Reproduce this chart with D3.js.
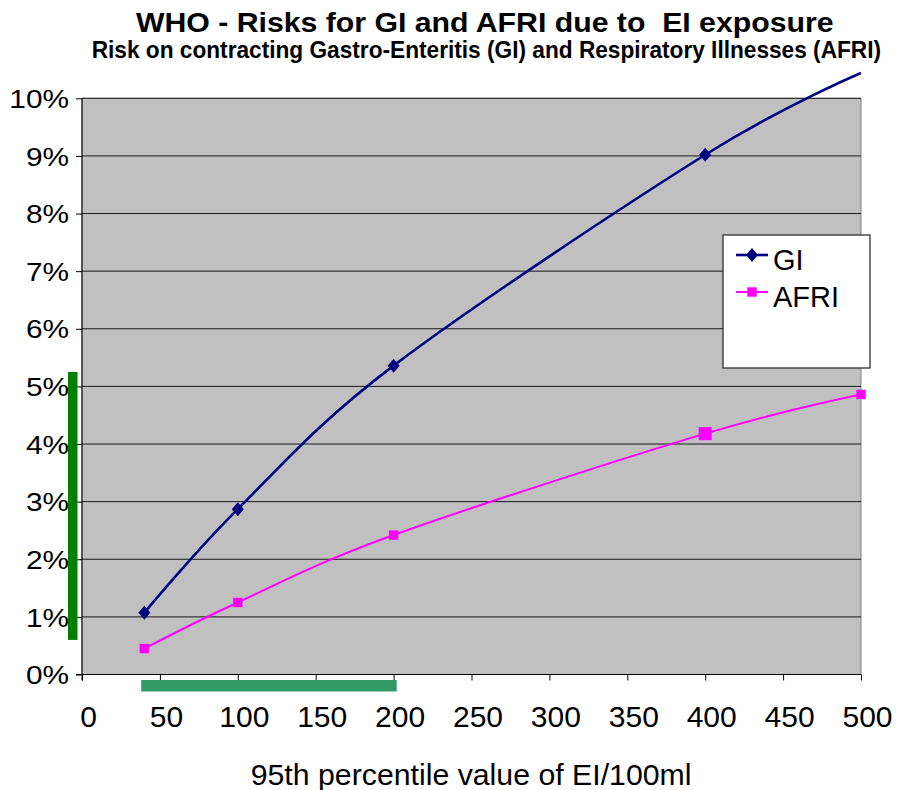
<!DOCTYPE html>
<html>
<head>
<meta charset="utf-8">
<script src="https://cdn.jsdelivr.net/npm/d3@7"></script>
<style>
  body { margin: 0; background: #fff; }
  text { font-family: "Liberation Sans", Arial, sans-serif; fill: #000; }
</style>
</head>
<body>
<div id="chart"></div>
<script>
// data
const exposure = [40, 100, 200, 400, 500];
const giRisk = [0.0107, 0.0287, 0.0536, 0.0902, 0.1044];
const afriRisk = [0.0045, 0.0125, 0.0242, 0.0418, 0.0486];
const seriesNames = ["GI", "AFRI"];
const xTicks = [0, 50, 100, 150, 200, 250, 300, 350, 400, 450, 500];
const yTicks = [0, 0.01, 0.02, 0.03, 0.04, 0.05, 0.06, 0.07, 0.08, 0.09, 0.10];
const riskBand = [0.006, 0.0525];   // green bar beside the y axis
const exposureBand = [38, 202];     // green bar below the x axis

let W = 898, H = 790;
let pLeft = 82, pRight = 861, pTop = 98.3, pBottom = 674.5;

let svg = d3.select("#chart")
    .append("svg")
    .attr("width", W)
    .attr("height", H);

let x = d3.scaleLinear().domain([0, 500]).range([pLeft, pRight]);
let y = d3.scaleLinear().domain([0, 0.10]).range([pBottom, pTop]);

// plot area
svg.append("rect")
    .attr("x", pLeft)
    .attr("y", pTop)
    .attr("width", pRight - pLeft)
    .attr("height", pBottom - pTop)
    .attr("fill", "#c0c0c0")
    .attr("stroke", "#808080")
    .attr("stroke-width", 1);

// gridlines
svg.append("g")
    .selectAll("line")
    .data(yTicks.slice(1))
    .join("line")
    .attr("x1", pLeft)
    .attr("x2", pRight)
    .attr("y1", d => y(d))
    .attr("y2", d => y(d))
    .attr("stroke", "#1a1a1a")
    .attr("stroke-width", 1);

// axes
let yAxis = svg.append("g")
    .attr("transform", "translate(" + pLeft + ",0)")
    .call(d3.axisLeft(y).tickValues(yTicks).tickFormat(d3.format(".0%")).tickSize(6).tickPadding(7));
yAxis.select(".domain").remove();
yAxis.selectAll("line").attr("stroke", "#000");
yAxis.selectAll("text")
    .attr("font-size", 25.5)
    .attr("dy", "0.36em")
    .each(function () {
        let w = this.getComputedTextLength();
        d3.select(this).attr("textLength", w * 1.17).attr("lengthAdjust", "spacingAndGlyphs");
    });

let xAxis = svg.append("g")
    .attr("transform", "translate(0," + pBottom + ")")
    .call(d3.axisBottom(x).tickValues(xTicks).tickSize(6).tickPadding(0));
xAxis.select(".domain").remove();
xAxis.selectAll("line").attr("stroke", "#000");
xAxis.selectAll("text")
    .attr("font-size", 30)
    .attr("dx", 6)
    .attr("dy", 0)
    .attr("y", 52);

svg.append("line")
    .attr("x1", pLeft).attr("x2", pLeft)
    .attr("y1", pTop).attr("y2", pBottom + 6)
    .attr("stroke", "#000");
svg.append("line")
    .attr("x1", pLeft - 6).attr("x2", pRight)
    .attr("y1", pBottom).attr("y2", pBottom)
    .attr("stroke", "#000");

// green range bars
svg.append("rect")
    .attr("x", 68)
    .attr("width", 9.5)
    .attr("y", y(riskBand[1]))
    .attr("height", y(riskBand[0]) - y(riskBand[1]))
    .attr("fill", "#008000");
svg.append("rect")
    .attr("x", x(exposureBand[0]))
    .attr("width", x(exposureBand[1]) - x(exposureBand[0]))
    .attr("y", 680)
    .attr("height", 11.5)
    .attr("fill", "#339966");

// series
let line = d3.line().curve(d3.curveCardinal.tension(0));
let diamond = "M0,-7L6,0L0,7L-6,0Z";

let giPts = exposure.map((e, i) => [x(e), y(giRisk[i])]);
let afriPts = exposure.map((e, i) => [x(e), y(afriRisk[i])]);

svg.append("path")
    .attr("d", line(afriPts))
    .attr("fill", "none")
    .attr("stroke", "#ff00ff")
    .attr("stroke-width", 2);

svg.append("g")
    .selectAll("rect")
    .data(afriPts)
    .join("rect")
    .attr("x", (d, i) => d[0] - (i === 3 ? 6.5 : 4.7))
    .attr("y", (d, i) => d[1] - (i === 3 ? 6.5 : 4.7))
    .attr("width", (d, i) => i === 3 ? 13 : 9.4)
    .attr("height", (d, i) => i === 3 ? 13 : 9.4)
    .attr("fill", "#ff00ff");

svg.append("path")
    .attr("d", line(giPts))
    .attr("fill", "none")
    .attr("stroke", "#000080")
    .attr("stroke-width", 2.6);

svg.append("g")
    .selectAll("path")
    .data(giPts.filter(p => p[1] >= pTop))
    .join("path")
    .attr("d", diamond)
    .attr("transform", d => "translate(" + d[0] + "," + d[1] + ")")
    .attr("fill", "#000080");

// legend
let lg = svg.append("g");
lg.append("rect")
    .attr("x", 723).attr("y", 235)
    .attr("width", 147).attr("height", 133)
    .attr("fill", "#fff")
    .attr("stroke", "#222")
    .attr("stroke-width", 1.2);

let legendRows = [
    {name: seriesNames[0], color: "#000080", width: 2.6, y: 255},
    {name: seriesNames[1], color: "#ff00ff", width: 2, y: 292}
];
legendRows.forEach((r, i) => {
    lg.append("line")
        .attr("x1", 736).attr("x2", 768)
        .attr("y1", r.y).attr("y2", r.y)
        .attr("stroke", r.color)
        .attr("stroke-width", r.width);
    if (i === 0) {
        lg.append("path")
            .attr("d", diamond)
            .attr("transform", "translate(752," + r.y + ")")
            .attr("fill", r.color);
    } else {
        lg.append("rect")
            .attr("x", 747.3).attr("y", r.y - 4.7)
            .attr("width", 9.4).attr("height", 9.4)
            .attr("fill", r.color);
    }
    lg.append("text")
        .attr("x", 773)
        .attr("y", r.y + 15)
        .attr("font-size", 29)
        .text(r.name);
});

// titles: condensed horizontally to the width seen in the picture
function fitText(str, x0, y0, size, weight, width) {
    let g = svg.append("g");
    let t = g.append("text")
        .attr("font-size", size)
        .attr("font-weight", weight)
        .style("white-space", "pre")
        .text(str);
    let k = width / t.node().getComputedTextLength();
    g.attr("transform", "translate(" + x0 + "," + y0 + ") scale(" + k + ",1)");
}

fitText("WHO - Risks for GI and AFRI due to  EI exposure", 136, 31.7, 28, "bold", 698);
fitText("Risk on contracting Gastro-Enteritis (GI) and Respiratory Illnesses (AFRI)", 91.7, 58.3, 24, "bold", 790);
fitText("95th percentile value of EI/100ml", 250.7, 785, 30, "normal", 441);
</script>
</body>
</html>
